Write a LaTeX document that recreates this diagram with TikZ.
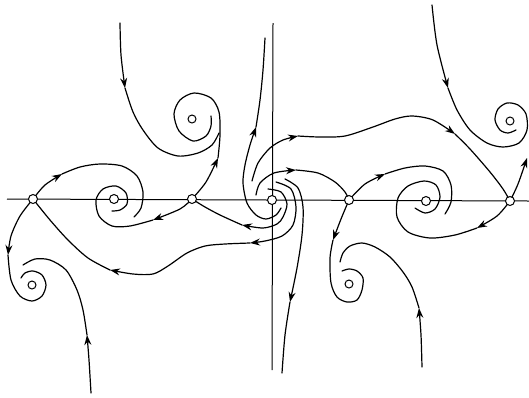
\documentclass[tikz,border=0pt]{standalone}
\usetikzlibrary{arrows.meta}
\pgfdeclarelayer{fg}
\pgfsetlayers{main,fg}
\begin{document}
\begin{tikzpicture}[x=1pt,y=-1pt,
  traj/.style={line width=1.2pt,line join=round,line cap=round},
  arr/.style={traj,-{Stealth[length=10pt,width=7pt]}},
  eqpt/.style={circle,draw,fill=white,line width=1pt,minimum size=9pt,inner sep=0pt},
  axisline/.style={line width=1pt}]
\useasboundingbox (0,0) rectangle (529,397);
% equilibria
\begin{pgfonlayer}{fg}
\node[eqpt] (A) at (33,199) {};
\node[eqpt] (B) at (114,199) {};
\node[eqpt] (C) at (192,199) {};
\node[eqpt] (O) at (272,200) {};
\node[eqpt] (D) at (349,200) {};
\node[eqpt] (E) at (426,201) {};
\node[eqpt] (F) at (510,201) {};
\node[eqpt,minimum size=8pt] (P1) at (192,119) {};
\node[eqpt,minimum size=8pt] (P2) at (510,121) {};
\node[eqpt,minimum size=8pt] (P3) at (32,285) {};
\node[eqpt,minimum size=8pt] (P4) at (349,284) {};
\end{pgfonlayer}
% axes
\coordinate (xl) at (7,199);
\coordinate (xr) at (529,201);
\coordinate (yt) at (273,23);
\coordinate (yb) at (272,370);
\draw[axisline] (xl) -- (xr);
\draw[axisline] (yt) -- (yb);

% A -> B loop
\draw[arr] plot[smooth] coordinates {(A.center) (45,185) (62,174)};
\draw[traj] plot[smooth] coordinates {(62,174) (80,167) (100,164) (122,166) (137,176) (143,192) (141,208) (134,217)};
% A -> P3
\draw[arr] plot[smooth] coordinates {(A.center) (20,216) (11,236) (8,255)};
\draw[traj] plot[smooth] coordinates {(8,255) (11,280) (20,296) (32,301) (42,296) (46,285) (42,275) (33,271) (25,273) (21,278)};
% bottom-left incoming curve
\draw[arr] plot[smooth] coordinates {(91,393) (89,360) (87,335)};
\draw[traj] plot[smooth] coordinates {(87,335) (83,310) (77,290) (66,270) (50,260) (35,259) (23,265)};
% O -> A long lower curve
\draw[arr] plot[smooth] coordinates {(276,182) (291,189) (296,207) (293,225) (282,236) (265,241) (250,243)};
\draw[arr] plot[smooth] coordinates {(250,243) (225,244) (205,246) (187,253) (168,266) (153,274) (133,274) (110,270)};
\draw[traj] plot[smooth] coordinates {(110,270) (88,258) (68,240) (50,220) (A.center)};
% O -> C
\draw[arr] plot[smooth] coordinates {(268,189) (281,192) (287,204) (283,217) (277,224) (263,228) (242,225)};
\draw[traj] plot[smooth] coordinates {(242,225) (220,215) (205,207) (C.center)};
% C -> B spiral
\draw[arr] plot[smooth] coordinates {(C.center) (180,209) (153,220)};
\draw[traj] plot[smooth] coordinates {(153,220) (130,226) (112,226) (99,216) (96,200) (103,189) (116,186) (126,193) (127,204) (120,210) (112,211)};
% C -> P1 spiral
\draw[arr] plot[smooth] coordinates {(C.center) (206,182) (218,158)};
\draw[traj] plot[smooth] coordinates {(218,158) (220,135) (219,112) (211,98) (194,93) (180,100) (174,114) (179,131) (193,141) (206,136) (211,126) (211,116)};
% top-left incoming curve
\draw[arr] plot[smooth] coordinates {(120,23) (121,55) (125,88)};
\draw[traj] plot[smooth] coordinates {(125,88) (133,112) (143,130) (158,148) (178,156) (198,153) (212,145) (219,133)};
% O -> up (a)
\draw[arr] plot[smooth] coordinates {(281,208) (276,215) (266,219) (256,215) (247,203) (243,183) (245,165) (250,145) (256,127)};
\draw[traj] plot[smooth] coordinates {(256,127) (260,100) (263,70) (265,38)};
% O -> F wave (b)
\draw[arr] plot[smooth] coordinates {(252,181) (258,163) (270,148) (283,140) (298,136)};
\draw[arr] plot[smooth] coordinates {(298,136) (320,137) (345,136) (373,127) (395,119) (412,116) (433,120) (455,134)};
\draw[traj] plot[smooth] coordinates {(455,134) (470,149) (490,172) (503,189) (F.center)};
% O -> D (c)
\draw[arr] plot[smooth] coordinates {(256,195) (260,183) (274,173) (296,170)};
\draw[traj] plot[smooth] coordinates {(296,170) (318,173) (335,182) (345,192) (D.center)};
% O -> down (f)
\draw[arr] plot[smooth] coordinates {(285,179) (298,188) (303,207) (302,235) (297,268) (290,302)};
\draw[traj] plot[smooth] coordinates {(290,302) (285,335) (282,373)};
% D -> E loop
\draw[arr] plot[smooth] coordinates {(D.center) (365,184) (385,174)};
\draw[traj] plot[smooth] coordinates {(385,174) (405,168) (425,166) (443,171) (451,185) (451,202) (445,214)};
% F -> E spiral
\draw[arr] plot[smooth] coordinates {(F.center) (497,216) (477,228)};
\draw[traj] plot[smooth] coordinates {(477,228) (455,235) (430,238) (408,232) (397,217) (398,198) (408,186) (424,181) (436,185) (440,197) (435,209) (425,213) (415,208)};
% D -> P4
\draw[arr] plot[smooth] coordinates {(D.center) (341,219) (333,240)};
\draw[traj] plot[smooth] coordinates {(333,240) (330,258) (331,283) (337,297) (347,302) (357,300) (362,290) (363,278) (357,271) (349,269) (342,271)};
% bottom-right incoming
\draw[arr] plot[smooth] coordinates {(422,367) (421,335) (419,308)};
\draw[traj] plot[smooth] coordinates {(419,308) (412,287) (403,272) (390,257) (375,247) (362,243) (350,246) (343,253) (340,262)};
% top-right incoming -> P2
\draw[arr] plot[smooth] coordinates {(432,5) (437,45) (448,88)};
\draw[traj] plot[smooth] coordinates {(448,88) (457,110) (470,130) (487,143) (503,147) (519,143) (527,130) (526,114) (518,105) (507,103) (498,109) (495,120) (500,130) (508,133) (516,130)};
% F -> up right
\draw[arr] plot[smooth] coordinates {(F.center) (518,184) (527,158)};
\end{tikzpicture}
\end{document}
